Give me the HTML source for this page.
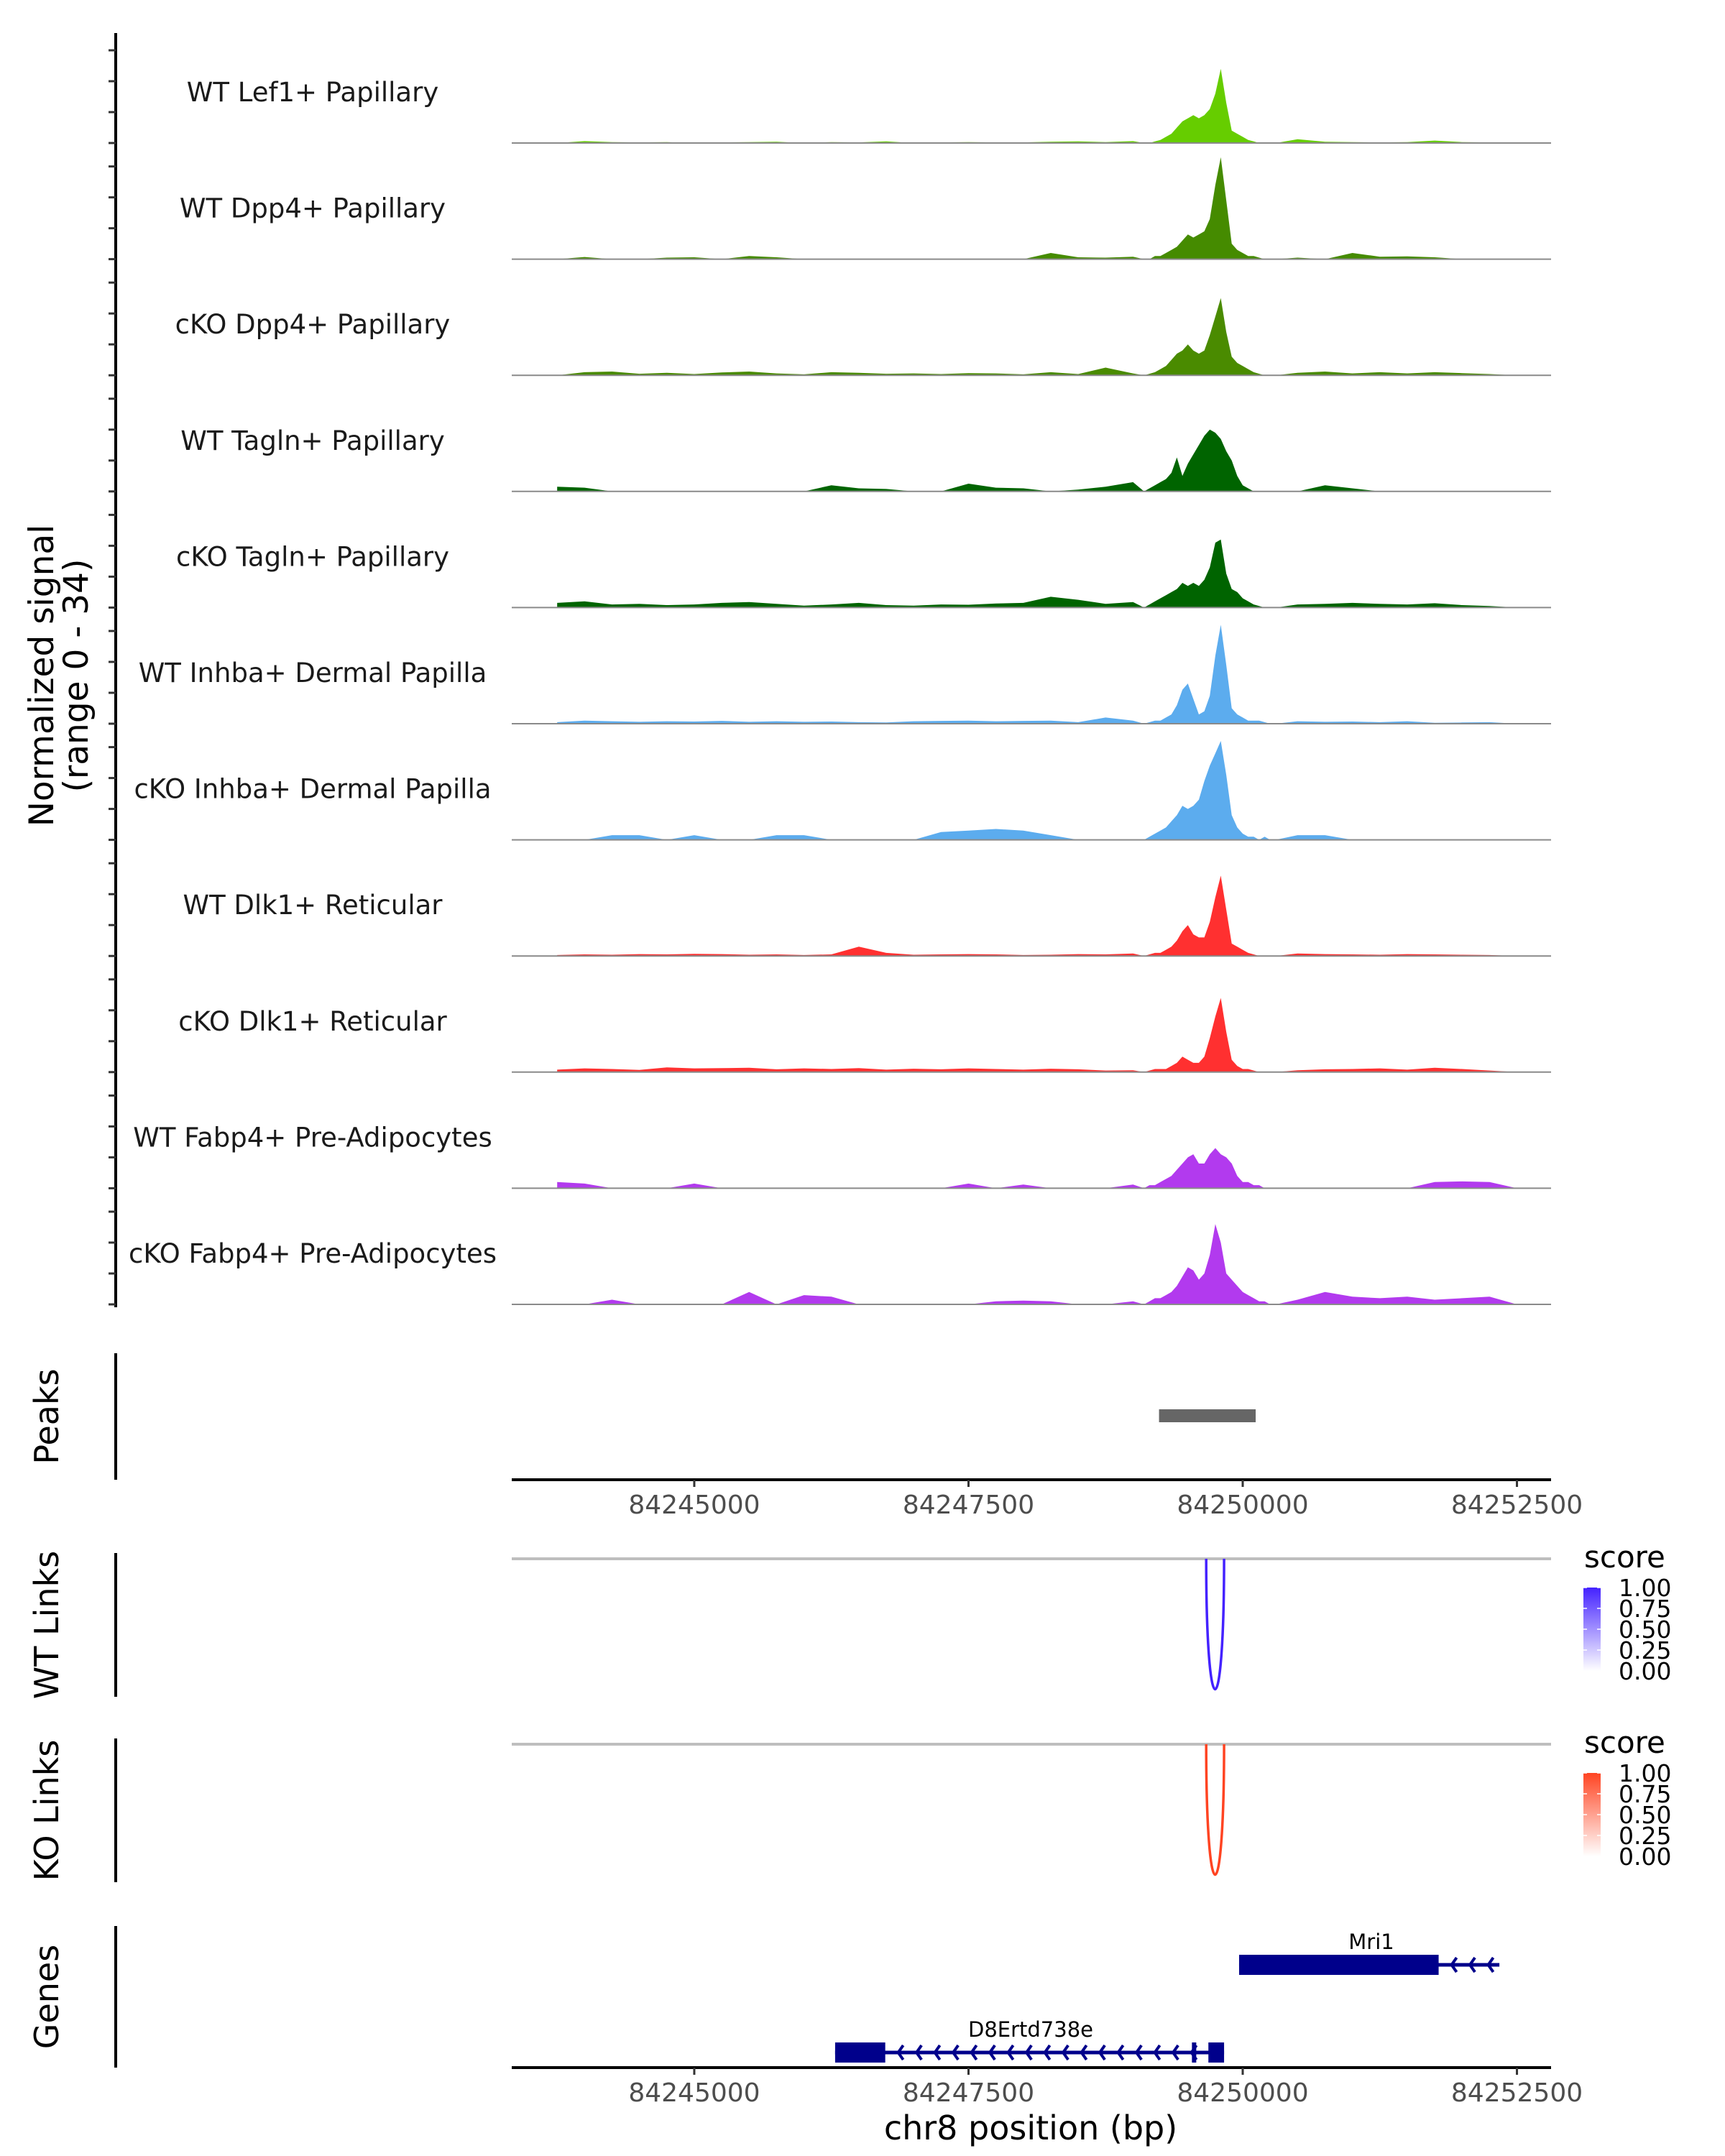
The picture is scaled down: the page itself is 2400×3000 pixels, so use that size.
<!DOCTYPE html>
<html><head><meta charset="utf-8">
<style>
html,body{margin:0;padding:0;background:#fff;}
svg{display:block;font-family:"DejaVu Sans","Liberation Sans",sans-serif;}
</style></head>
<body>
<svg id="fig" width="2400" height="3000" viewBox="0 0 2400 3000" xmlns="http://www.w3.org/2000/svg"></svg>
<script>
// ---- data ----
const domainStart = 84243336, domainEnd = 84252811;
const xTicks = [84245000, 84247500, 84250000, 84252500];
const trackNames = ["WT Lef1+ Papillary","WT Dpp4+ Papillary","cKO Dpp4+ Papillary","WT Tagln+ Papillary","cKO Tagln+ Papillary","WT Inhba+ Dermal Papilla","cKO Inhba+ Dermal Papilla","WT Dlk1+ Reticular","cKO Dlk1+ Reticular","WT Fabp4+ Pre-Adipocytes","cKO Fabp4+ Pre-Adipocytes"];
const trackColors = ["#66CD00","#458B00","#4A8B00","#006400","#006400","#5CACEE","#5CACEE","#FF3030","#FF3030","#B23AEE","#B23AEE"];
const bgStart = 84243750, bgStep = 250;
const bg1 = [0,0.6,0.3,0.2,0.3,0,0.2,0.3,0.4,0,0.3,0.2,0.5,0,0.2,0.3,0.2,0.2,0.4,0.5,0.3,0.6,1,0,0,0,0,1.2,0.4,0.3,0.2,0.3,0.8,0.3,0.2,0];
const bg2 = [0,0.7,0,0,0.5,0.6,0,1,0.6,0,0,0,0,0,0,0,0,0,2,0.6,0.5,0.8,1,0,0,0,0,0.5,0,2,0.8,0.9,0.6,0,0,0];
const bg3 = [0,1,1.2,0.5,0.8,0.4,0.9,1.2,0.6,0.3,1,0.8,0.5,0.6,0.4,0.7,0.6,0.3,1,0.4,2.5,0.6,1,0,0,0,0,0.8,1.2,0.6,1,0.6,1,0.7,0.4,0];
const bg4 = [1.5,1.2,0,0,0,0,0,0,0,0,2,1,0.8,0,0,2.5,1.2,1,0,0.6,1.5,3,2,0,0,0,0,0,2,1,0,0,0,0,0,0];
const bg5 = [1.5,2,1,1.2,0.8,1,1.5,1.8,1.2,0.6,1,1.5,0.8,0.6,1,0.9,1.3,1.5,3.5,2.5,1.2,1.8,2,0,0,0,0,1,1.2,1.5,1.2,1,1.4,0.8,0.5,0];
const bg6 = [0.5,1,0.8,0.6,0.8,0.7,0.9,0.6,0.8,0.6,0.7,0.5,0.4,0.8,0.9,1,0.8,0.9,1,0.5,2,1,1,0,0,0,0,0.8,0.6,0.7,0.5,0.8,0.3,0.4,0.5,0];
const bg7 = [0,0,1.5,1.5,0,1.5,0,0,1.5,1.5,0,0,0,0,2.5,3,3.5,3,1.5,0,0,0,1,0,0,0,1.5,1.5,1.5,0,0,0,0,0,0,0];
const bg8 = [0.3,0.5,0.4,0.6,0.5,0.7,0.6,0.4,0.5,0.3,0.5,3,1,0.4,0.5,0.6,0.5,0.3,0.4,0.6,0.5,0.8,1.2,0,0,0,0,0.8,0.6,0.5,0.4,0.6,0.5,0.4,0.3,0];
const bg9 = [0.8,1.2,1,0.7,1.5,1.2,1.3,1.4,0.9,1.2,1,1.3,0.8,1.1,0.9,1.2,1,0.8,1.1,0.9,0.5,0.6,1,0,0,0,0,0.6,0.9,1,1.2,0.8,1.4,1,0.5,0];
const bg10 = [2,1.5,0,0,0,1.5,0,0,0,0,0,0,0,0,0,1.5,0,1.2,0,0,0,1.2,0,0,0,0,1.5,0,0,0,0,0,2,2.2,2,0];
const bg11 = [0,0,1.5,0,0,0,0,4,0,3,2.5,0,0,0,0,0,1,1.2,1,0,0,1,1,0,0,0,0,1.5,4,2.5,2,2.5,1.5,2,2.5,0];
const bgSeries = [bg1,bg2,bg3,bg4,bg5,bg6,bg7,bg8,bg9,bg10,bg11];
const pkStart = 84249100, pkStep = 50;
const pk1 = [0,0,0.5,1,2,3,5,7,8,9,8,9,11,16,24,13,4,3,2,1,0.5,0,0,0,0];
const pk2 = [0,0,1,1,2,3,4,6,8,7,8,9,13,24,33,19,5,3,2,1,1,0.5,0,0,0];
const pk3 = [0,0.5,1,2,3,5,7,8,10,8,7,8,13,19,25,14,6,4,3,2,1,0.5,0,0,0];
const pk4 = [0,1,2,3,4,6,11,5,9,12,15,18,20,19,17,13,10,5,2,1,0,0,0,0,0];
const pk5 = [0,1,2,3,4,5,6,8,7,8,7,9,13,21,22,11,6,5,3,2,1,0.5,0,0,0];
const pk6 = [0,0.5,1,1,2,3,6,11,13,8,3,4,9,22,32,19,5,3,2,1,1,1,0.5,0,0];
const pk7 = [0,1,2,3,4,6,8,11,10,11,13,19,24,28,32,21,8,4,2,1,1,0,1,0,0];
const pk8 = [0,0.5,1,1,2,3,5,8,10,7,6,6,11,19,26,15,4,3,2,1,0.5,0,0,0,0];
const pk9 = [0,0.5,1,1,1,2,3,5,4,3,3,5,11,18,24,13,4,2,1,1,0.5,0,0,0,0];
const pk10 = [0,1,1,2,3,4,6,8,10,11,8,8,11,13,11,10,8,4,2,2,1,1,0,0,0];
const pk11 = [0,1,2,2,3,4,6,9,12,11,8,10,16,26,20,10,8,6,4,3,2,1,1,0,0];
const pkSeries = [pk1,pk2,pk3,pk4,pk5,pk6,pk7,pk8,pk9,pk10,pk11];
const peakRegions = [[84249237, 84250118]];
const wtLinks = [[84249667, 84249830, 1.0]];
const koLinks = [[84249667, 84249830, 1.0]];
const legendTicks = ["1.00","0.75","0.50","0.25","0.00"];
const genes = [
  {name:"Mri1", start:84249967, end:84252340, exons:[[84249967,84251786]], row:0},
  {name:"D8Ertd738e", start:84246284, end:84249830, exons:[[84246284,84246741],[84249537,84249576],[84249687,84249830]], row:1}
];

// ---- layout ----
const NS = "http://www.w3.org/2000/svg";
const svg = document.getElementById("fig");
const X0 = 712, X1 = 2158;
const x = bp => X0 + (bp - domainStart) / (domainEnd - domainStart) * (X1 - X0);
const firstBase = 199, trackGap = 161.6, unitPx = 4.3;
function el(tag, attrs, parent, text){
  const e = document.createElementNS(NS, tag);
  for (const k in attrs) e.setAttribute(k, attrs[k]);
  if (text !== undefined) e.textContent = text;
  (parent || svg).appendChild(e);
  return e;
}

// main y axis
const yAxis = el("line",{x1:161,y1:46,x2:161,y2:1819,stroke:"#000","stroke-width":4});


const yTitle = el("text",{x:0,y:0,"font-size":47,"text-anchor":"middle",fill:"#000",transform:"translate(80,940) rotate(-90)"});


el("tspan",{x:0,dy:-6},yTitle,"Normalized signal");
el("tspan",{x:0,dy:48},yTitle,"(range 0 - 34)");

trackNames.forEach((name, t) => {
  const base = firstBase + t * trackGap;
  const g = el("g",{});
  
  
  [0,10,20,30].forEach(v => {
    const tk = el("line",{x1:151,x2:161,y1:base - v*unitPx,y2:base - v*unitPx,stroke:"#333","stroke-width":3},g);
    
    
  });
  const lbl = el("text",{x:435,y:base-58,"font-size":37,"text-anchor":"middle",fill:"#1a1a1a"},g,name);
  
  
  const pts = [];
  const pkEnd = pkStart + pkStep*(pkSeries[t].length-1);
  bgSeries[t].forEach((v,i) => { const bp = bgStart + bgStep*i; if (bp < pkStart || bp > pkEnd) pts.push([bp, v]); });
  pkSeries[t].forEach((v,i) => pts.push([pkStart + pkStep*i, v]));
  pts.sort((a,b)=>a[0]-b[0]);
  let d = "M" + x(pts[0][0]) + "," + base;
  pts.forEach(p => { d += " L" + x(p[0]).toFixed(1) + "," + (base - p[1]*unitPx).toFixed(1); });
  d += " L" + x(pts[pts.length-1][0]) + "," + base + " Z";
  const area = el("path",{d:d,fill:trackColors[t]},g);
  
  
  const bl = el("line",{x1:X0,x2:X1,y1:base,y2:base,stroke:"#8a8a8a","stroke-width":2},g);
  
  
});

function sideAxis(name, y1, y2, label){
  const l = el("line",{x1:161,x2:161,y1:y1,y2:y2,stroke:"#000","stroke-width":4});
  
  
  const t = el("text",{x:0,y:0,"font-size":46,"text-anchor":"middle",fill:"#000",transform:"translate(81,"+((y1+y2)/2)+") rotate(-90)"},svg,label);
  
  
}
function xAxis(name, y){
  const l = el("line",{x1:X0,x2:X1,y1:y,y2:y,stroke:"#000","stroke-width":4});
  
  
  xTicks.forEach(v => {
    const tk = el("line",{x1:x(v),x2:x(v),y1:y,y2:y+10,stroke:"#333","stroke-width":3});
    
    
    const tl = el("text",{x:x(v),y:y+47,"font-size":36,"text-anchor":"middle",fill:"#4d4d4d"},svg,String(v));
    
    
  });
}

// Peaks
sideAxis("peaks", 1883, 2059, "Peaks");
peakRegions.forEach(r => {
  const p = el("rect",{x:x(r[0]),y:1961,width:x(r[1])-x(r[0]),height:18,fill:"#666"});
  
  
});
xAxis("peaks-x-axis", 2059);

// Links
function linkPanel(name, label, top, links, color, grad){
  sideAxis(name, top-8, top+192, label);
  const gl = el("line",{x1:X0,x2:X1,y1:top,y2:top,stroke:"#bebebe","stroke-width":4});
  
  
  links.forEach(lk => {
    const a = x(lk[0]), b = x(lk[1]), depth = 182*lk[2];
    const c = el("path",{d:`M${a},${top} C${a},${top+depth*1.33} ${b},${top+depth*1.33} ${b},${top}`,fill:"none",stroke:color,"stroke-width":3.5});
    
    
  });
  const lg = el("g",{});
  
  
  el("text",{x:2204,y:top+12,"font-size":42,fill:"#000"},lg,"score");
  const defs = el("defs",{},lg);
  const gr = el("linearGradient",{id:grad,x1:0,y1:1,x2:0,y2:0},defs);
  el("stop",{offset:0,"stop-color":"#ffffff"},gr);
  el("stop",{offset:1,"stop-color":color},gr);
  const by = top + 40;
  el("rect",{x:2203,y:by,width:24,height:116,fill:`url(#${grad})`},lg);
  legendTicks.forEach((s,i) => {
    const yy = by + i*29;
    el("line",{x1:2203,x2:2208,y1:yy,y2:yy,stroke:"#fff","stroke-width":1.5},lg);
    el("line",{x1:2222,x2:2227,y1:yy,y2:yy,stroke:"#fff","stroke-width":1.5},lg);
    el("text",{x:2252,y:yy+12,"font-size":33,fill:"#000"},lg,s);
  });
}
linkPanel("wt-links","WT Links",2169,wtLinks,"#4422FF","gw");
linkPanel("ko-links","KO Links",2427,koLinks,"#FF4422","gk");

// Genes
sideAxis("genes", 2680, 2877, "Genes");
const rowY = [2734, 2856];
genes.forEach(gn => {
  const y = rowY[gn.row];
  const g = el("g",{});
  
  
  el("line",{x1:x(gn.start),x2:x(gn.end),y1:y,y2:y,stroke:"#00008B","stroke-width":5},g);
  const lastEx = gn.exons[0][1];
  for (let p = x(lastEx) + 18; p < x(gn.end) - 8; p += 25.5) {
    el("path",{d:`M${p+7},${y-10} L${p},${y} L${p+7},${y+10}`,fill:"none",stroke:"#00008B","stroke-width":4},g);
  }
  gn.exons.forEach(ex => el("rect",{x:x(ex[0]),y:y-14,width:Math.max(6,x(ex[1])-x(ex[0])),height:28,fill:"#00008B"},g));
  const lx = gn.row === 0 ? 1908 : 1434;
  el("text",{x:lx,y:y-22,"font-size":29,"text-anchor":"middle",fill:"#000"},g,gn.name);
});
xAxis("genes-x-axis", 2877);
const xt = el("text",{x:1434,y:2977,"font-size":46,"text-anchor":"middle",fill:"#000"},svg,"chr8 position (bp)");


</script>
</body></html>
